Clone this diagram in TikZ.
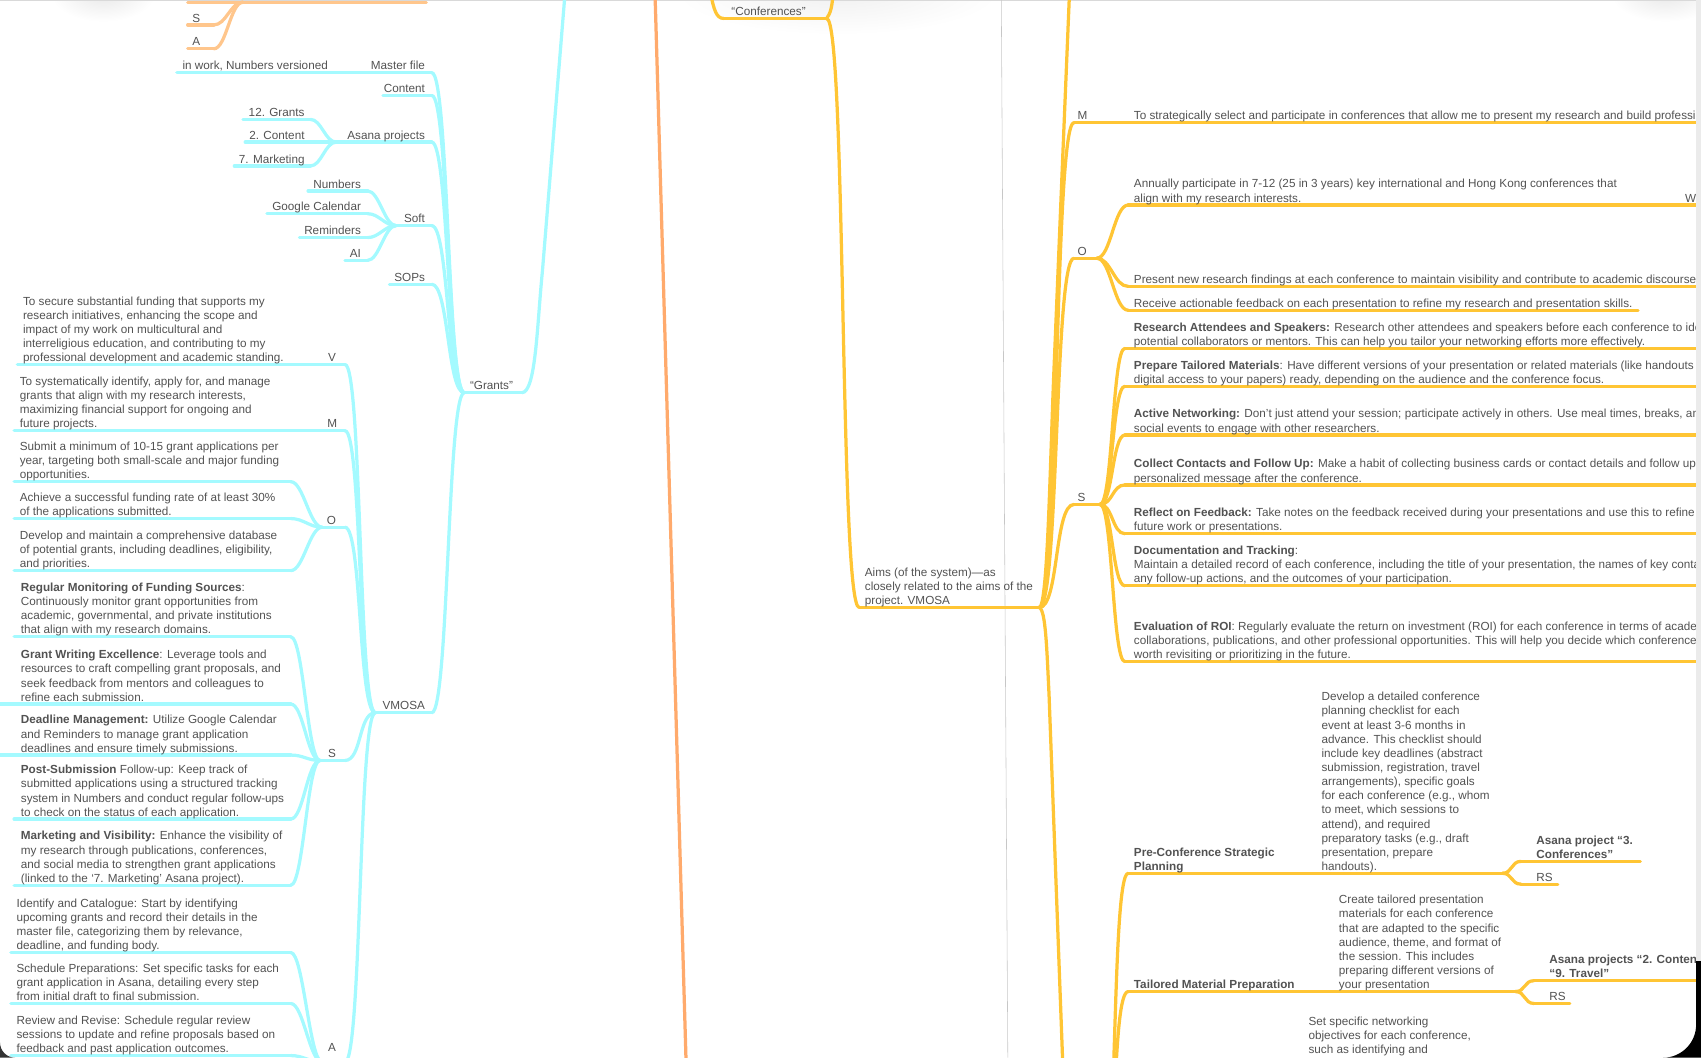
\documentclass[tikz,border=0pt]{standalone}
\usepackage{fontspec}
\setmainfont{Liberation Sans}
\definecolor{grantcyan}{RGB}{164,250,255}
\definecolor{confyellow}{RGB}{255,197,52}
\definecolor{stemorange}{RGB}{255,170,108}
\definecolor{topapricot}{RGB}{255,198,140}
\definecolor{inkgray}{RGB}{82,82,82}
\tikzset{
  txt/.style={inner sep=0pt,align=left,text=inkgray,font=\fontsize{8.3}{10}\selectfont,execute at end node=\strut,yshift=-1.9pt},
  capL/.style={txt,anchor=south west},
  capR/.style={txt,anchor=south east},
  cy/.style={draw=grantcyan,line width=2.3pt,line cap=round},
  yl/.style={draw=confyellow,line width=2.3pt,line cap=round},
  ap/.style={draw=topapricot,line width=2.3pt,line cap=round},
  lnk/.style={out=0,in=180,distance=#1},
  lnk/.default=10pt
}
\begin{document}
\begin{tikzpicture}[x=0.027cm,y=-0.027cm]
\useasboundingbox (0,0) rectangle (1568,975);
\begin{scope}
\clip (0,0) rectangle (1563.5,975);
% soft shadows of the floating panels
\shade[inner color=black!9,outer color=white] (95,-6) ellipse (48 and 26);
\shade[inner color=black!6,outer color=white] (772,-8) ellipse (150 and 40);
\shade[inner color=black!9,outer color=white] (1535,-6) ellipse (50 and 26);
\draw[black!15,line width=0.5pt] (0,0.3) -- (1568,0.3);
% page break and main stem
\draw[black!22,line width=0.4pt] (923,0) -- (929,975);
\draw[stemorange,line width=2.3pt] (603.8,-6) -- (632.6,985);

% top left branch
\coordinate (apH) at (224,2);
\draw[ap] (173,2) -- (393,2);
\draw[ap] (173,23) -- (197,23) coordinate (apS);
\draw[ap] (173,45) -- (197,45) coordinate (apA);
\draw[ap] (apS) to[lnk=9pt] (apH);
\draw[ap] (apA) to[lnk=9pt] (apH);
\node[capL] (apSt) at (177,22) {S};
\node[capL] (apAt) at (177,44) {A};

% "Grants"
\coordinate (gH) at (428,362);
\draw[cy] (gH) -- (481,362) coordinate (gR);
\draw[cy] (gR) .. controls (494,362) and (495,300) .. (500,250) -- (521,-8);
\node[capL] (grants) at (433,361) {“Grants”};

\draw[cy] (163,67) -- (398,67) coordinate (mf);
\node[capL] (mfN) at (168,66) {in work, Numbers versioned};
\node[capR] (mfT) at (392,66) {Master file};
\draw[cy] (353,88) -- (398,88) coordinate (ct);
\node[capR] (ctT) at (392,87) {Content};

\coordinate (asH) at (310,131);
\draw[cy] (asH) -- (398,131) coordinate (as);
\node[capR] (asT) at (392,130) {Asana projects};
\draw[cy] (224,110) -- (286,110) coordinate (as1);
\draw[cy] (226,131) -- (asH);
\draw[cy] (216,153) -- (286,153) coordinate (as3);
\draw[cy] (as1) to[lnk=8pt] (asH);
\draw[cy] (as3) to[lnk=8pt] (asH);
\node[capR] (as1T) at (281,109) {12. Grants};
\node[capR] (as2T) at (281,130) {2. Content};
\node[capR] (as3T) at (281,152) {7. Marketing};

\coordinate (soH) at (365,208);
\draw[cy] (soH) -- (398,208) coordinate (so);
\node[capR] (soT) at (392,207) {Soft};
\draw[cy] (284,176) -- (339,176) coordinate (so1);
\draw[cy] (246,197) -- (339,197) coordinate (so2);
\draw[cy] (276,219) -- (339,219) coordinate (so3);
\draw[cy] (318,240) -- (339,240) coordinate (so4);
\foreach \i in {1,...,4} \draw[cy] (so\i) to[lnk=8pt] (soH);
\node[capR] (so1T) at (333,175) {Numbers};
\node[capR] (so2T) at (333,196) {Google Calendar};
\node[capR] (so3T) at (333,218) {Reminders};
\node[capR] (so4T) at (333,239) {AI};

\draw[cy] (359,262) -- (398,262) coordinate (sp);
\node[capR] (spT) at (392,261) {SOPs};

\coordinate (vH) at (346,657);
\draw[cy] (vH) -- (398,657) coordinate (vm);
\node[capR] (vmT) at (392,656) {VMOSA};
\foreach \c in {mf,ct,as,so,sp,vm} \draw[cy] (\c) to[lnk=12pt] (gH);

% VMOSA of the grants
\draw[cy] (16,336) -- (318,336) coordinate (gv);
\node[capR] (gvT) at (310,335) {V};
\node[capL] (gvN) at (21,335) {To secure substantial funding that supports my\\research initiatives, enhancing the scope and\\impact of my work on multicultural and\\interreligious education, and contributing to my\\professional development and academic standing.};

\draw[cy] (13,397) -- (318,397) coordinate (gm);
\node[capR] (gmT) at (311,396) {M};
\node[capL] (gmN) at (18,396) {To systematically identify, apply for, and manage\\grants that align with my research interests,\\maximizing financial support for ongoing and\\future projects.};

\coordinate (goH) at (297,486);
\draw[cy] (goH) -- (318,486) coordinate (go);
\node[capR] (goT) at (310,485) {O};
\draw[cy] (13,444) -- (268,444) coordinate (go1);
\draw[cy] (13,478) -- (268,478) coordinate (go2);
\draw[cy] (13,526) -- (268,526) coordinate (go3);
\foreach \i in {1,2,3} \draw[cy] (go\i) to[lnk=9pt] (goH);
\node[capL] (go1N) at (18,443) {Submit a minimum of 10-15 grant applications per\\year, targeting both small-scale and major funding\\opportunities.};
\node[capL] (go2N) at (18,477) {Achieve a successful funding rate of at least 30\%\\of the applications submitted.};
\node[capL] (go3N) at (18,525) {Develop and maintain a comprehensive database\\of potential grants, including deadlines, eligibility,\\and priorities.};

\coordinate (gsH) at (295,701);
\draw[cy] (gsH) -- (318,701) coordinate (gs);
\node[capR] (gsT) at (310,700) {S};
\draw[cy] (13,587) -- (268,587) coordinate (gs1);
\draw[cy] (0,649) -- (268,649) coordinate (gs2);
\draw[cy] (0,696) -- (268,696) coordinate (gs3);
\draw[cy] (13,755) -- (268,755) coordinate (gs4);
\draw[cy] (13,816) -- (268,816) coordinate (gs5);
\foreach \i in {1,...,5} \draw[cy] (gs\i) to[lnk=9pt] (gsH);
\node[capL] (gs1N) at (19,586) {\textbf{Regular Monitoring of Funding Sources}:\\Continuously monitor grant opportunities from\\academic, governmental, and private institutions\\that align with my research domains.};
\node[capL] (gs2N) at (19,648) {\textbf{Grant Writing Excellence}: Leverage tools and\\resources to craft compelling grant proposals, and\\seek feedback from mentors and colleagues to\\refine each submission.};
\node[capL] (gs3N) at (19,695) {\textbf{Deadline Management:} Utilize Google Calendar\\and Reminders to manage grant application\\deadlines and ensure timely submissions.};
\node[capL] (gs4N) at (19,754) {\textbf{Post-Submission} Follow-up: Keep track of\\submitted applications using a structured tracking\\system in Numbers and conduct regular follow-ups\\to check on the status of each application.};
\node[capL] (gs5N) at (19,815) {\textbf{Marketing and Visibility:} Enhance the visibility of\\my research through publications, conferences,\\and social media to strengthen grant applications\\(linked to the ‘7. Marketing’ Asana project).};

\coordinate (gaH) at (297,979);
\draw[cy] (gaH) -- (318,979) coordinate (ga);
\node[capR,execute at end node={}] (gaT) at (310,970.5) {A};
\draw[cy] (10,878) -- (268,878) coordinate (ga1);
\draw[cy] (10,925) -- (268,925) coordinate (ga2);
\draw[cy] (10,973) -- (268,973) coordinate (ga3);
\foreach \i in {1,2,3} \draw[cy] (ga\i) to[lnk=9pt] (gaH);
\node[capL] (ga1N) at (15,877) {Identify and Catalogue: Start by identifying\\upcoming grants and record their details in the\\master file, categorizing them by relevance,\\deadline, and funding body.};
\node[capL] (ga2N) at (15,924) {Schedule Preparations: Set specific tasks for each\\grant application in Asana, detailing every step\\from initial draft to final submission.};
\node[capL] (ga3N) at (15,972) {Review and Revise: Schedule regular review\\sessions to update and refine proposals based on\\feedback and past application outcomes.};
\foreach \c in {gv,gm,go,gs,ga} \draw[cy] (\c) to[lnk=12pt] (vH);

% "Conferences"
\coordinate (cfL) at (667,17);
\draw[yl] (cfL) -- (762,17) coordinate (cfR);
\draw[yl] (655,-6) .. controls (658,8) and (660,17) .. (cfL);
\draw[yl] (cfR) .. controls (766,12) and (767,5) .. (768,-6);
\node[capL] (conf) at (674,16) {“Conferences”};

\coordinate (amL) at (792,560);
\draw[yl] (amL) -- (958,560) coordinate (amH);
\draw[yl] (cfR) to[lnk=14pt] (amL);
\node[capL] (aims) at (797,559) {Aims (of the system)—as\\closely related to the aims of the\\project. VMOSA};
\draw[yl] (amH) .. controls (966,560) and (968,420) .. (972,330) -- (986,-10);
\draw[yl] (amH) .. controls (964,562) and (965,600) .. (967,640) -- (980,990);

\coordinate (cmL) at (990,113);
\draw[yl] (cmL) -- (1568,113);
\node[capL] (cmT) at (993,112) {M};
\node[capL] (cmN) at (1045,112) {To strategically select and participate in conferences that allow me to present my research and build professi};

\coordinate (coL) at (990,238);
\draw[yl] (coL) -- (1011,238) coordinate (coH);
\node[capL] (coT) at (993,237) {O};
\draw[yl] (1040,189) coordinate (co1) -- (1568,189);
\draw[yl] (1040,264) coordinate (co2) -- (1568,264);
\draw[yl] (1040,286) coordinate (co3) -- (1510,286);
\foreach \i in {1,2,3} \draw[yl] (coH) to[lnk=10pt] (co\i);
\node[capL] (co1N) at (1045,188) {Annually participate in 7-12 (25 in 3 years) key international and Hong Kong conferences that\\align with my research interests.};
\node[capL] (co1W) at (1553,188) {W};
\node[capL] (co2N) at (1045,263) {Present new research findings at each conference to maintain visibility and contribute to academic discourse};
\node[capL] (co3N) at (1045,285) {Receive actionable feedback on each presentation to refine my research and presentation skills.};

\coordinate (csL) at (990,465);
\draw[yl] (csL) -- (1014,465) coordinate (csH);
\node[capL] (csT) at (993,464) {S};
\foreach \i/\y in {1/321,2/356,3/401,4/447,5/492,6/540,7/610}
  \draw[yl] (1037,\y) coordinate (cs\i) -- (1568,\y);
\foreach \i in {1,...,7} \draw[yl] (csH) to[lnk=9pt] (cs\i);
\node[capL] (cs1N) at (1045,320) {\textbf{Research Attendees and Speakers:} Research other attendees and speakers before each conference to ide\\potential collaborators or mentors. This can help you tailor your networking efforts more effectively.};
\node[capL] (cs2N) at (1045,355) {\textbf{Prepare Tailored Materials}: Have different versions of your presentation or related materials (like handouts\\digital access to your papers) ready, depending on the audience and the conference focus.};
\node[capL] (cs3N) at (1045,400) {\textbf{Active Networking:} Don’t just attend your session; participate actively in others. Use meal times, breaks, an\\social events to engage with other researchers.};
\node[capL] (cs4N) at (1045,446) {\textbf{Collect Contacts and Follow Up:} Make a habit of collecting business cards or contact details and follow up\\personalized message after the conference.};
\node[capL] (cs5N) at (1045,491) {\textbf{Reflect on Feedback:} Take notes on the feedback received during your presentations and use this to refine\\future work or presentations.};
\node[capL] (cs6N) at (1045,539) {\textbf{Documentation and Tracking}:\\Maintain a detailed record of each conference, including the title of your presentation, the names of key conta\\any follow-up actions, and the outcomes of your participation.};
\node[capL] (cs7N) at (1045,609) {\textbf{Evaluation of ROI}: Regularly evaluate the return on investment (ROI) for each conference in terms of acade\\collaborations, publications, and other professional opportunities. This will help you decide which conference\\worth revisiting or prioritizing in the future.};
\foreach \c in {cmL,coL,csL} \draw[yl] (amH) to[lnk=14pt] (\c);

% action steps below
\coordinate (caH) at (1015,1100);
\draw[yl] (1040,805) coordinate (pcL) -- (1385,805) coordinate (pcH);
\draw[yl] (caH) to[lnk=12pt] (pcL);
\node[capL] (pcT) at (1045,804) {\textbf{Pre-Conference Strategic}\\\textbf{Planning}};
\node[capL] (pcN) at (1218,804) {Develop a detailed conference\\planning checklist for each\\event at least 3-6 months in\\advance. This checklist should\\include key deadlines (abstract\\submission, registration, travel\\arrangements), specific goals\\for each conference (e.g., whom\\to meet, which sessions to\\attend), and required\\preparatory tasks (e.g., draft\\presentation, prepare\\handouts).};
\draw[yl] (1402,794) coordinate (pc1) -- (1512,794);
\draw[yl] (1402,815) coordinate (pc2) -- (1436,815);
\draw[yl] (pcH) to[lnk=7pt] (pc1);
\draw[yl] (pcH) to[lnk=7pt] (pc2);
\node[capL] (pc1T) at (1416,793) {\textbf{Asana project “3.}\\\textbf{Conferences”}};
\node[capL] (pc2T) at (1416,814) {RS};

\draw[yl] (1040,914) coordinate (tmL) -- (1397,914) coordinate (tmH);
\draw[yl] (caH) to[lnk=12pt] (tmL);
\node[capL] (tmT) at (1045,913) {\textbf{Tailored Material Preparation}};
\node[capL] (tmN) at (1234,913) {Create tailored presentation\\materials for each conference\\that are adapted to the specific\\audience, theme, and format of\\the session. This includes\\preparing different versions of\\your presentation};
\draw[yl] (1414,904) coordinate (tm1) -- (1568,904);
\draw[yl] (1414,925) coordinate (tm2) -- (1447,925);
\draw[yl] (tmH) to[lnk=7pt] (tm1);
\draw[yl] (tmH) to[lnk=7pt] (tm2);
\node[capL] (tm1T) at (1428,903) {\textbf{Asana projects “2. Conten}\\\textbf{“9. Travel”}};
\node[capL] (tm2T) at (1428,924) {RS};

\node[capL] (ntN) at (1206,973) {Set specific networking\\objectives for each conference,\\such as identifying and};
\end{scope}
% window edge
\fill[black!8] (1563.5,0) rectangle (1568,886);
\fill[black] (1563.5,886) -- (1568,886) -- (1568,975) -- (1533,975) .. controls (1549.8,975) and (1563.5,961.3) .. (1563.5,944.5) -- cycle;
\fill[black!80] (0,961) -- (0,975) -- (14,975) .. controls (6.3,975) and (0,968.7) .. (0,961) -- cycle;
\end{tikzpicture}
\end{document}
